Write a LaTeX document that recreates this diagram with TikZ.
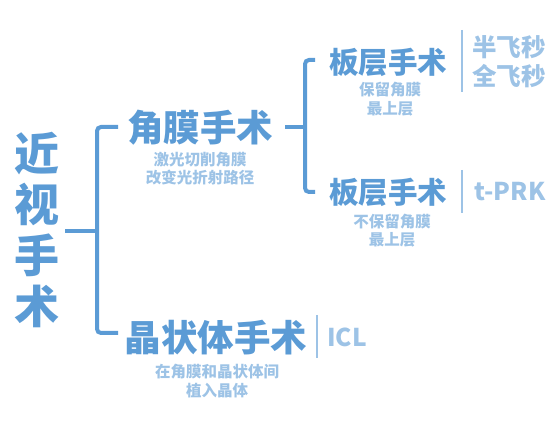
\documentclass[tikz,border=0pt]{standalone}
\usepackage{fontspec}
\setmainfont{Noto Sans CJK SC}[BoldFont={Noto Sans CJK SC Black}]
\definecolor{mainblue}{HTML}{5B9BD5}
\definecolor{lightblue}{HTML}{9DC3E6}
\tikzset{
  titlebig/.style={text=mainblue, font=\bfseries\fontsize{36.5}{36.5}\selectfont, inner sep=0pt},
  titlemid/.style={text=mainblue, font=\bfseries\fontsize{29.5}{29.5}\selectfont, inner sep=0pt},
  subtext/.style={text=lightblue, font=\bfseries\fontsize{15.5}{18.5}\selectfont, align=center, inner sep=0pt},
  leaftext/.style={text=lightblue, font=\bfseries\fontsize{24.5}{29}\selectfont, align=center, inner sep=0pt},
  bracket/.style={draw=mainblue, line width=4pt, rounded corners=4pt},
  sepline/.style={draw=lightblue, line width=2pt},
}
\begin{document}
\begin{tikzpicture}[x=1pt,y=-1pt]
\useasboundingbox (0,0) rectangle (560,427);
% root
\node[text=mainblue, font=\bfseries\fontsize{45}{51}\selectfont, align=center, inner sep=0pt] (root) at (37,230) {近\\视\\手\\术};
% level 1
\node[titlebig] (cornea) at (200,128) {角膜手术};
\node[subtext] (corneasub) at (200,168.5) {激光切削角膜\\改变光折射路径};
\node[titlebig] (lens) at (216,338) {晶状体手术};
\node[subtext] (lenssub) at (217,381) {在角膜和晶状体间\\植入晶体};
% level 2
\node[titlemid] (lamA) at (388,62) {板层手术};
\node[subtext] (lamAsub) at (390,99) {保留角膜\\最上层};
\node[titlemid] (lamB) at (388,192) {板层手术};
\node[subtext] (lamBsub) at (392,230.5) {不保留角膜\\最上层};
% leaves
\node[leaftext] (femto) at (509,61.5) {半飞秒\\全飞秒};
\node[leaftext] (tprk) at (510,192) {t-PRK};
\node[leaftext] (icl) at (347,337.5) {ICL};
% bracket 1
\coordinate (rootstub) at (65,231);
\coordinate (j1) at (97,231);
\coordinate (j1top) at (118,127);
\coordinate (j1bot) at (118,333);
\draw[bracket] (rootstub) -- (j1);
\draw[bracket] (j1top) -| (j1) |- (j1bot);
% bracket 2
\coordinate (corneastub) at (285,127);
\coordinate (j2) at (305,127);
\coordinate (j2top) at (315,60);
\coordinate (j2bot) at (315,192);
\draw[bracket] (corneastub) -- (j2);
\draw[bracket] (j2top) -| (j2) |- (j2bot);
% separators
\coordinate (s1a) at (462,30); \coordinate (s1b) at (462,92);
\coordinate (s2a) at (462,170); \coordinate (s2b) at (462,213);
\coordinate (s3a) at (317,315); \coordinate (s3b) at (317,358);
\draw[sepline] (s1a) -- (s1b);
\draw[sepline] (s2a) -- (s2b);
\draw[sepline] (s3a) -- (s3b);
\end{tikzpicture}
\end{document}
